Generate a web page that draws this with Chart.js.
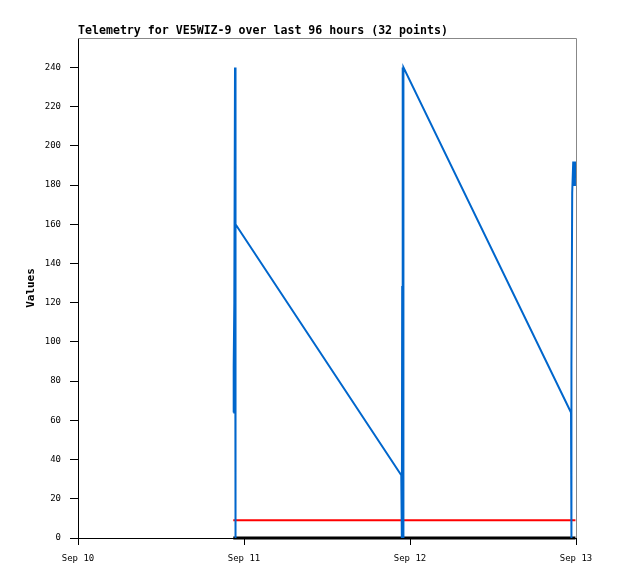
<!DOCTYPE html>
<html>
<head>
<meta charset="utf-8">
<script src="https://cdn.jsdelivr.net/npm/chart.js@4/dist/chart.umd.min.js"></script>
<style>
  body { margin: 0; background: #fff; }
  canvas { display: block; }
</style>
</head>
<body>
<canvas id="chart" width="618" height="579"></canvas>
<script>
// hours since Sep 10 00:00
const hours = [22.45, 22.51, 22.60, 22.70, 22.74, 22.81,
  46.74, 46.82, 46.87, 46.92, 46.97, 47.00, 47.05,
  71.28, 71.32, 71.36, 71.45, 71.60, 71.75, 71.85, 71.92];
const channelA = [64, 88, 120, 240, 0, 160,
  32, 0, 128, 208, 240, 0, 240,
  64, 0, 88, 176, 192, 180, 192, 184];
const channelB = hours.map(() => 9);
const channelC = hours.map(() => 0);

const xTickHours = [0, 24, 48, 72];
const xTickLabels = ['Sep 10', 'Sep 11', 'Sep 12', 'Sep 13'];
const yTickValues = [0, 20, 40, 60, 80, 100, 120, 140, 160, 180, 200, 220, 240];
const titleText = 'Telemetry for VE5WIZ-9 over last 96 hours (32 points)';

const pts = vals => vals.map((v, i) => ({ x: hours[i], y: v }));

// frame on top/right + title at the left edge of the plot
const framePlugin = {
  id: 'frame',
  beforeDatasetsDraw(chart) {
    const { ctx, chartArea: a } = chart;
    ctx.save();
    ctx.strokeStyle = '#888';
    ctx.lineWidth = 1;
    ctx.beginPath();
    ctx.moveTo(a.left, a.top + 0.5);
    ctx.lineTo(a.right + 0.5, a.top + 0.5);
    ctx.lineTo(a.right + 0.5, a.bottom);
    ctx.stroke();
    ctx.restore();
  },
  afterDraw(chart) {
    const { ctx, chartArea: a } = chart;
    ctx.save();
    ctx.font = 'bold 11.6px "DejaVu Sans Mono"';
    ctx.fillStyle = '#000';
    ctx.textBaseline = 'alphabetic';
    ctx.fillText(titleText, a.left, 34);
    ctx.restore();
  }
};

new Chart(document.getElementById('chart').getContext('2d'), {
  type: 'line',
  data: {
    datasets: [{
      data: pts(channelA),
      borderColor: '#0066cc',
      borderWidth: 2,
      pointRadius: 0,
      tension: 0
    }, {
      data: pts(channelB),
      borderColor: '#ff0000',
      borderWidth: 2,
      pointRadius: 0
    }, {
      data: pts(channelC),
      borderColor: '#000',
      borderWidth: 3,
      pointRadius: 0,
      clip: false
    }]
  },
  options: {
    responsive: false,
    animation: false,
    layout: { padding: { left: 0, top: 38, right: 42, bottom: 0 } },
    plugins: {
      legend: { display: false },
      tooltip: { enabled: false }
    },
    scales: {
      x: {
        type: 'linear',
        min: 0,
        max: 72,
        afterBuildTicks: s => { s.ticks = xTickHours.map(v => ({ value: v })); },
        afterFit: s => { s.height = 41; },
        ticks: {
          callback: v => xTickLabels[xTickHours.indexOf(v)],
          color: '#000',
          font: { family: 'DejaVu Sans Mono', size: 9 },
          padding: 8,
          maxRotation: 0
        },
        grid: { drawOnChartArea: false, drawTicks: true, tickLength: 7, color: '#000' },
        border: { color: '#000' }
      },
      y: {
        min: 0,
        max: 255,
        afterBuildTicks: s => { s.ticks = yTickValues.map(v => ({ value: v })); },
        afterFit: s => { s.width = 78; },
        ticks: {
          color: '#000',
          font: { family: 'DejaVu Sans Mono', size: 9 },
          padding: 9
        },
        grid: { drawOnChartArea: false, drawTicks: true, tickLength: 8, color: '#000' },
        border: { color: '#000' },
        title: {
          display: true,
          text: 'Values',
          color: '#000',
          font: { family: 'DejaVu Sans Mono', size: 11, weight: 'bold' },
          padding: { top: 25, bottom: 0 }
        }
      }
    }
  },
  plugins: [framePlugin]
});
</script>
</body>
</html>
